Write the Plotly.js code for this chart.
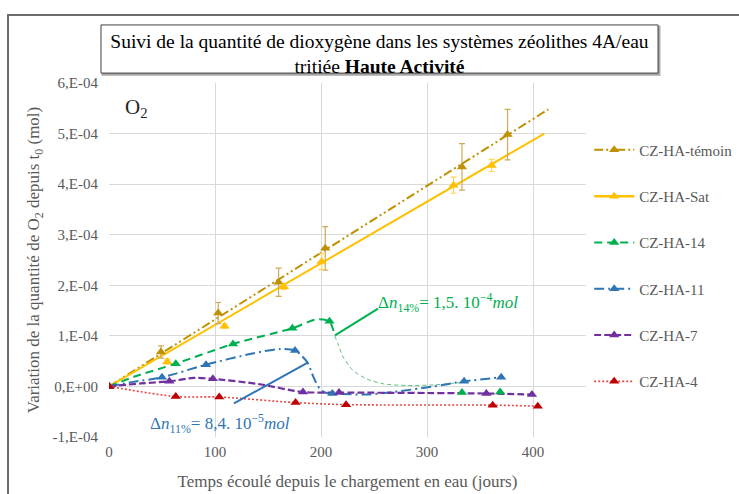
<!DOCTYPE html>
<html><head><meta charset="utf-8">
<script src="https://cdn.plot.ly/plotly-3.0.1.min.js"></script>
<style>html,body{margin:0;padding:0;background:#fff;}#chart{width:739px;height:494px;}</style>
</head><body><div id="chart"></div>
<script>
// ---- data (values in mol) ----
const temoinX = [0, 49, 103, 160, 204, 333, 376];
const temoinY = [0, 0.68e-4, 1.45e-4, 2.06e-4, 2.73e-4, 4.34e-4, 4.98e-4];
const temoinErr = [0, 0.12e-4, 0.21e-4, 0.28e-4, 0.43e-4, 0.46e-4, 0.50e-4];
const temoinFitX = [0, 414.5];
const temoinFitY = [0, 5.48e-4];

const satX = [0, 55, 109, 165, 200.6, 325, 361];
const satY = [0, 0.49e-4, 1.19e-4, 1.97e-4, 2.47e-4, 3.98e-4, 4.37e-4];
const satErr = [0, 0.05e-4, 0.04e-4, 0.05e-4, 0.16e-4, 0.16e-4, 0.12e-4];
const satFitX = [0, 410.7];
const satFitY = [0, 5.0e-4];

const ha14X = [0, 63, 117, 173, 208, 333, 369];
const ha14Y = [0, 0.45e-4, 0.84e-4, 1.15e-4, 1.29e-4, -0.12e-4, -0.11e-4];
const ha14CurveX = [0, 25, 63, 117, 173, 197, 208, 213];
const ha14CurveY = [0, 0.2e-4, 0.45e-4, 0.84e-4, 1.15e-4, 1.33e-4, 1.28e-4, 1.0e-4];
const ha14TailX = [213, 216, 221, 230, 243, 259, 281, 306, 333];
const ha14TailY = [1.0e-4, 0.84e-4, 0.58e-4, 0.32e-4, 0.15e-4, 0.05e-4, 0.02e-4, 0.03e-4, 0.08e-4];

const ha11X = [0, 50, 91.5, 175.5, 210.7, 335, 370];
const ha11Y = [0, 0.18e-4, 0.43e-4, 0.71e-4, -0.14e-4, 0.10e-4, 0.18e-4];
const ha11CurveX = [0, 23, 50, 91.5, 133, 161, 175.5, 187, 193, 199, 205, 211, 243, 268, 306, 335, 370];
const ha11CurveY = [0, 0.09e-4, 0.18e-4, 0.43e-4, 0.64e-4, 0.74e-4, 0.71e-4, 0.48e-4, 0.18e-4, -0.05e-4, -0.13e-4, -0.14e-4, -0.16e-4, -0.11e-4, 0.0, 0.10e-4, 0.18e-4];

const ha7X = [0, 57, 98, 183, 217, 356, 399];
const ha7Y = [0, 0.10e-4, 0.15e-4, -0.11e-4, -0.12e-4, -0.14e-4, -0.16e-4];
const ha7CurveX = [0, 30, 57, 80, 98, 140, 183, 217, 300, 356, 399];
const ha7CurveY = [0, 0.06e-4, 0.10e-4, 0.17e-4, 0.15e-4, 0.05e-4, -0.11e-4, -0.12e-4, -0.13e-4, -0.14e-4, -0.16e-4];

const ha4X = [0, 63, 104, 176, 223.6, 362, 404.5];
const ha4Y = [0, -0.20e-4, -0.21e-4, -0.32e-4, -0.36e-4, -0.37e-4, -0.39e-4];

const seriesNames = ["CZ-HA-témoin", "CZ-HA-Sat", "CZ-HA-14", "CZ-HA-11", "CZ-HA-7", "CZ-HA-4"];

const xTickVals = [0, 100, 200, 300, 400];
const yTickVals = [-1e-4, 0, 1e-4, 2e-4, 3e-4, 4e-4, 5e-4, 6e-4];
const yTickText = ["-1,E-04", "0,E+00", "1,E-04", "2,E-04", "3,E-04", "4,E-04", "5,E-04", "6,E-04"];

// ---- styles ----
const C = {
  temoin: "#BF9000", sat: "#FFC000", g: "#00B050", b: "#2E75B6", p: "#7030A0", r: "#C00000", rl: "#E04848"
};
const dashT = "9px,3px,2px,3px,2px,3px";
const dash14 = "8px,5px";
const dash11 = "10px,4px,2px,4px";
const dash7 = "7px,3px";
const dash4 = "2px,2px";
const msize = 9;

function line(x, y, color, dash, width, shape, group) {
  return {x, y, type: "scatter", mode: "lines", showlegend: false, legendgroup: group,
    line: {color, dash, width, shape: shape || "linear", smoothing: 0.8}, hoverinfo: "skip"};
}
function marks(x, y, color, group, err, errColor) {
  const t = {x, y, type: "scatter", mode: "markers", showlegend: false, legendgroup: group,
    marker: {symbol: "triangle-up", size: msize, color}};
  if (err) t.error_y = {type: "data", array: err, visible: true, color: errColor, thickness: 1.2, width: 3};
  return t;
}
function leg(name, color, dash, width, mcolor, group) {
  return {x: [null], y: [null], type: "scatter", mode: "lines+markers", name, legendgroup: group,
    line: {color, dash, width}, marker: {symbol: "triangle-up", size: msize, color: mcolor || color}};
}

const traces = [
  line(temoinFitX, temoinFitY, C.temoin, dashT, 2, "linear", "t"),
  line(satFitX, satFitY, C.sat, "solid", 2, "linear", "s"),
  line(ha14CurveX, ha14CurveY, C.g, dash14, 2, "spline", "g"),
  line(ha14TailX, ha14TailY, "#5CC27E", "4px,3px", 1, "spline", "g"),
  line(ha11CurveX, ha11CurveY, C.b, dash11, 2, "spline", "b"),
  line(ha7CurveX, ha7CurveY, C.p, dash7, 2.2, "spline", "p"),
  line(ha4X, ha4Y, C.rl, dash4, 1.6, "spline", "r"),
  marks(temoinX, temoinY, C.temoin, "t", temoinErr, "#CDAA55"),
  marks(satX, satY, C.sat, "s", satErr, "#FFD35C"),
  marks(ha14X, ha14Y, C.g, "g"),
  marks(ha11X, ha11Y, C.b, "b"),
  marks(ha7X, ha7Y, C.p, "p"),
  marks(ha4X, ha4Y, C.r, "r"),
  leg(seriesNames[0], C.temoin, dashT, 2, null, "t"),
  leg(seriesNames[1], C.sat, "solid", 2.5, null, "s"),
  leg(seriesNames[2], C.g, dash14, 2, null, "g"),
  leg(seriesNames[3], C.b, dash11, 2, null, "b"),
  leg(seriesNames[4], C.p, dash7, 2, null, "p"),
  leg(seriesNames[5], C.rl, dash4, 1.6, C.r, "r")
];

const serif = "Liberation Serif";
const gray = "#595959";

const layout = {
  width: 739, height: 494,
  margin: {l: 109, r: 153, t: 83, b: 57, autoexpand: false},
  paper_bgcolor: "#fff", plot_bgcolor: "#fff",
  font: {family: serif, color: gray, size: 14},
  title: {text: "Suivi de la quantité de dioxygène dans les systèmes zéolithes 4A/eau<br>tritiée <b>Haute Activité</b>",
    font: {family: serif, size: 19.5, color: "#000"}, xref: "container", yref: "container",
    x: 0.5135, y: 0.9028, xanchor: "center", yanchor: "middle"},
  xaxis: {range: [0, 450], tickvals: xTickVals, ticktext: xTickVals.map(String), showgrid: true,
    gridcolor: "#D9D9D9", gridwidth: 1, zeroline: false, showline: false, ticks: "",
    ticklabelstandoff: 4, automargin: false,
    tickfont: {family: serif, size: 15, color: gray},
    title: {text: "Temps écoulé depuis le chargement en eau (jours)", font: {family: serif, size: 17, color: gray}, standoff: 16}},
  yaxis: {range: [-1e-4, 6e-4], tickvals: yTickVals, ticktext: yTickText, showgrid: true,
    gridcolor: "#D9D9D9", gridwidth: 1, zeroline: true, zerolinecolor: "#D9D9D9", zerolinewidth: 1, showline: false, ticks: "",
    ticklabelstandoff: 10, automargin: false,
    tickfont: {family: serif, size: 15, color: gray},
    title: {text: "Variation de la quantité de O<sub>2</sub> depuis t<sub>0</sub> (mol)", font: {family: serif, size: 17, color: gray}, standoff: 8}},
  legend: {x: 1.0067, xanchor: "left", y: 0.857, yanchor: "top", tracegroupgap: 23.8,
    font: {family: serif, size: 15, color: gray}, bgcolor: "rgba(0,0,0,0)", traceorder: "grouped", itemwidth: 40},
  shapes: [
    {type: "rect", xref: "paper", yref: "paper", x0: -0.2117, x1: 1.37, y0: -0.24, y1: 1.192,
      line: {color: "#6B6B6B", width: 2}, layer: "below"},
    {type: "rect", xref: "paper", yref: "paper", x0: -0.0135, x1: 1.154, y0: 1.023, y1: 1.159,
      line: {color: "#A8A8A8", width: 2}, fillcolor: "#A8A8A8", layer: "above"},
    {type: "rect", xref: "paper", yref: "paper", x0: -0.0168, x1: 1.151, y0: 1.028, y1: 1.164,
      line: {color: "#404040", width: 1}, fillcolor: "#fff", layer: "above"},
    {type: "line", xref: "x", yref: "y", x0: 213.2, y0: 1.01e-4, x1: 253.8, y1: 1.54e-4, line: {color: C.g, width: 2}},
    {type: "line", xref: "x", yref: "y", x0: 117.9, y0: -0.335e-4, x1: 187.5, y1: 0.47e-4, line: {color: C.b, width: 2}}
  ],
  annotations: [
    {text: "O<sub>2</sub>", xref: "paper", yref: "paper", x: 0.03, y: 0.93, xanchor: "left", yanchor: "middle",
      showarrow: false, font: {family: serif, size: 21, color: "#262626"}},
    {text: "Δ<i>n</i><sub>14%</sub>= 1,5. 10<sup>−4</sup><i>mol</i>", xref: "paper", yref: "paper", x: 0.711, y: 0.381,
      xanchor: "center", yanchor: "middle", showarrow: false, font: {family: serif, size: 17, color: C.g}},
    {text: "Δ<i>n</i><sub>11%</sub>= 8,4. 10<sup>−5</sup><i>mol</i>", xref: "paper", yref: "paper", x: 0.2317, y: 0.0395,
      xanchor: "center", yanchor: "middle", showarrow: false, font: {family: serif, size: 17, color: C.b}}
  ]
};

Plotly.newPlot("chart", traces, layout, {displayModeBar: false, staticPlot: true});
</script></body></html>
